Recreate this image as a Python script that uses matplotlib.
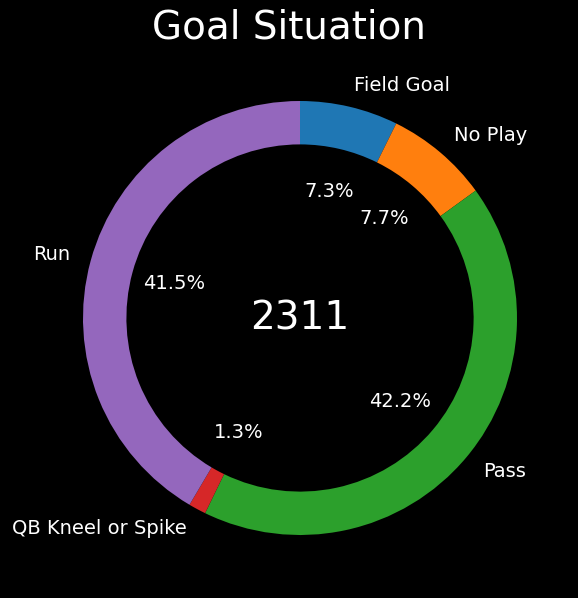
import matplotlib.pyplot as plt

labels = ["Field Goal", "No Play", "Pass", "QB Kneel or Spike", "Run"]
counts = [169, 178, 975, 30, 959]
colors = ["#1f77b4", "#ff7f0e", "#2ca02c", "#d62728", "#9467bd"]

fig = plt.figure(figsize=(5.78, 5.98), dpi=100, facecolor="black")
ax = fig.add_axes([83 / 578, 63 / 598, 434 / 578, 434 / 598])
ax.set_facecolor("black")

wedges, texts, autotexts = ax.pie(
    counts,
    labels=labels,
    colors=colors,
    autopct="%1.1f%%",
    startangle=90,
    counterclock=False,
    pctdistance=0.6,
    labeldistance=1.1,
    wedgeprops=dict(width=0.2),
    textprops=dict(color="white", fontsize=14),
)

ax.text(0, 0, str(sum(counts)), color="white", fontsize=28,
        ha="center", va="center")
ax.set_xlim(-1, 1)
ax.set_ylim(-1, 1)
ax.set_aspect("equal")

fig.suptitle("Goal Situation", color="white", fontsize=28, y=0.985)

fig.savefig("out.png", dpi=100, facecolor="black")
